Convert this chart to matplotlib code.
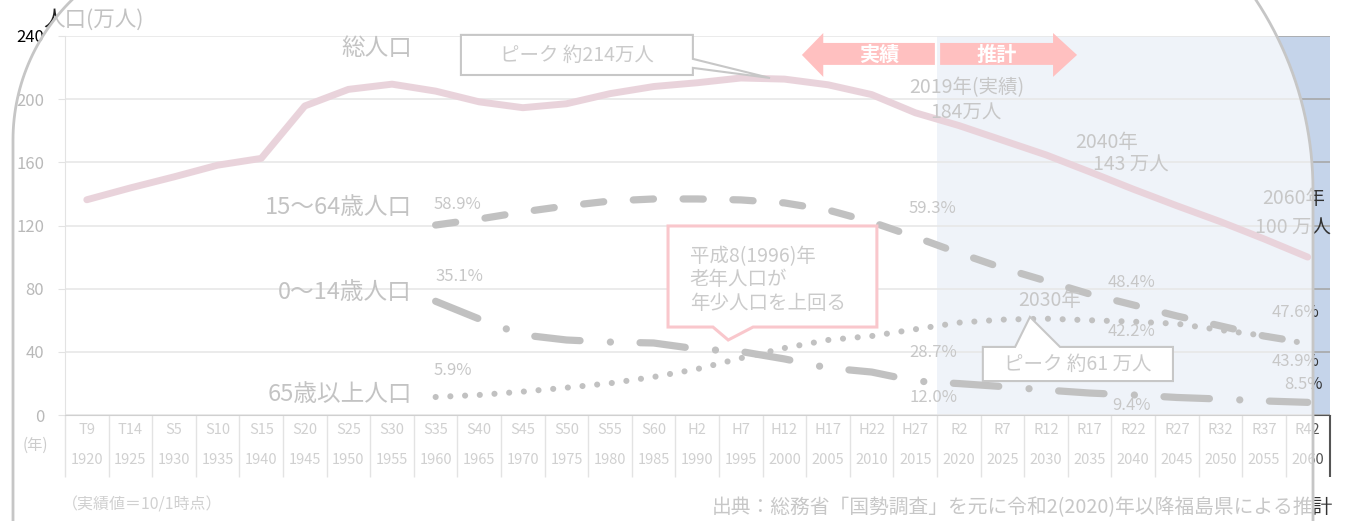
import numpy as np
import matplotlib
matplotlib.use('Agg')
import matplotlib.pyplot as plt
from matplotlib.patches import Polygon

plt.rcParams['font.family'] = ['Noto Sans CJK JP', 'DejaVu Sans']

# 福島県の人口推移（万人）
eras = ['T9', 'T14', 'S5', 'S10', 'S15', 'S20', 'S25', 'S30', 'S35', 'S40',
        'S45', 'S50', 'S55', 'S60', 'H2', 'H7', 'H12', 'H17', 'H22', 'H27',
        'R2', 'R7', 'R12', 'R17', 'R22', 'R27', 'R32', 'R37', 'R42']
years = [1920, 1925, 1930, 1935, 1940, 1945, 1950, 1955, 1960, 1965,
         1970, 1975, 1980, 1985, 1990, 1995, 2000, 2005, 2010, 2015,
         2020, 2025, 2030, 2035, 2040, 2045, 2050, 2055, 2060]
total = [136.3, 143.8, 150.8, 158.2, 162.5, 195.7, 206.2, 209.5, 205.1, 198.3,
         194.6, 197.1, 203.5, 208.0, 210.4, 213.4, 212.7, 209.1, 202.9, 191.4,
         183.3, 174.0, 164.7, 154.0, 143.0, 132.5, 122.4, 111.5, 100.0]
# 1960年以降の年齢区分別人口
age15_64 = [120.3, 124.1, 128.6, 132.4, 135.5, 136.8, 136.8, 136.2, 134.3, 129.8,
            122.2, 112.7, 102.6, 93.1, 84.9, 76.6, 69.7, 62.7, 56.4, 50.0, 45.5]
age0_14 = [72.0, 60.8, 50.7, 47.5, 46.2, 45.6, 41.8, 40.2, 35.5, 29.8,
           27.2, 21.5, 19.9, 18.0, 15.8, 13.9, 12.7, 11.1, 10.1, 8.9, 8.0]
age65 = [11.4, 12.7, 14.8, 17.3, 20.1, 24.1, 29.1, 36.0, 42.4, 47.5,
         50.0, 54.3, 58.5, 60.4, 61.0, 60.0, 59.1, 57.8, 53.8, 50.2, 45.0]
start_1960 = years.index(1960)
start_proj = years.index(2020)

W, H = 1345, 521
fig = plt.figure(figsize=(W / 100, H / 100), dpi=100)
ax = fig.add_axes([65 / W, 106 / H, 1264.5 / W, 379 / H])

x = np.arange(len(years))
xs = x[start_1960:]

# 推計期間の網掛け
ax.axvspan(start_proj - 0.5, len(years) - 0.5, color='#c5d4ea', lw=0, zorder=0)

ax.plot(x, total, color='#b1607d', lw=5, solid_capstyle='round', zorder=3)
ax.plot(xs, age15_64, color='#1e1e1e', lw=5.2, ls=(0, (2.8, 4.1)),
        dash_capstyle='round', zorder=3)
ax.plot(xs, age0_14, color='#1e1e1e', lw=5.2, ls=(0, (6.3, 4.2, 0.01, 4.1)),
        dash_capstyle='round', zorder=3)
ax.plot(xs, age65, color='#1e1e1e', lw=4.4, ls=(0, (0.01, 2.4)),
        dash_capstyle='round', zorder=3)

ax.set_xlim(-0.5, len(years) - 0.5)
ax.set_ylim(0, 240)
ax.set_yticks(range(0, 241, 40))
ax.set_xticks([])
ax.yaxis.grid(True, color='#a8a8a8', lw=1.2)
ax.set_axisbelow(True)
for s in ['top', 'right']:
    ax.spines[s].set_visible(False)
ax.spines['left'].set_color('#9a9a9a')
ax.spines['bottom'].set_color('#555555')
ax.tick_params(axis='y', length=5, color='#9a9a9a', labelsize=12, pad=10,
               labelcolor='black')

# 下の年表
ax.vlines(np.arange(len(years)) - 0.5, -39, 0, colors='#9b9b9b', lw=1, clip_on=False)
ax.vlines([len(years) - 0.5], -39, 0, colors='#555555', lw=1.5, clip_on=False)
for i in range(len(years)):
    ax.text(i, -9.5, eras[i], ha='center', va='center', fontsize=10.5, color='#555555')
    ax.text(i, -28.5, str(years[i]), ha='center', va='center', fontsize=10.5,
            color='#555555')

# 系列名
for label, yv in [('総人口', 231.8), ('15〜64歳人口', 131.4),
                  ('0〜14歳人口', 77.5), ('65歳以上人口', 12.7)]:
    ax.text(7.46, yv, label, ha='right', va='center', fontsize=17, color='#262626')

# 割合ラベル
pcts = [('58.9%', 8.51, 133.6), ('35.1%', 8.54, 87.4), ('5.9%', 8.40, 27.9),
        ('59.3%', 19.39, 130.5), ('28.7%', 19.41, 39.3), ('12.0%', 19.41, 10.8),
        ('48.4%', 23.97, 83.6), ('42.2%', 23.97, 52.6), ('9.4%', 23.97, 5.7),
        ('47.6%', 27.71, 64.6), ('43.9%', 27.71, 33.6), ('8.5%', 27.90, 19.0)]
for t, px, py in pcts:
    ax.text(px, py, t, ha='center', va='center', fontsize=12, color='#333333')

# 総人口の注記
for t, px, py in [('2019年(実績)', 20.17, 207.1), ('184万人', 20.17, 191.3),
                  ('2040年', 23.40, 172.3), ('143 万人', 23.95, 158.3),
                  ('2060年', 27.67, 137.4), ('100 万人', 27.67, 118.4),
                  ('2030年', 22.09, 72.2)]:
    ax.text(px, py, t, ha='center', va='center', fontsize=14, color='#333333')

# 実績・推計の矢印
ax.add_patch(Polygon([(16.40, 228.0), (16.89, 241.9), (16.89, 235.6), (19.45, 235.6),
                      (19.45, 221.7), (16.89, 221.7), (16.89, 214.1)],
                     closed=True, fc='#ff1a1a', ec='none', clip_on=False, zorder=4))
ax.add_patch(Polygon([(19.57, 235.6), (22.16, 235.6), (22.16, 241.9), (22.71, 228.0),
                      (22.16, 214.1), (22.16, 221.7), (19.57, 221.7)],
                     closed=True, fc='#ff1a1a', ec='none', clip_on=False, zorder=4))
ax.text(18.17, 228.6, '実績', ha='center', va='center', fontsize=14.5,
        fontweight='bold', color='white', zorder=5)
ax.text(20.86, 228.6, '推計', ha='center', va='center', fontsize=14.5,
        fontweight='bold', color='white', zorder=5)

# 吹き出し
ax.add_patch(Polygon([(8.58, 240.7), (13.90, 240.7), (13.90, 225.5), (15.67, 213.4),
                      (13.90, 219.8), (13.90, 215.3), (8.58, 215.3)],
                     closed=True, fc='white', ec='#333333', lw=1.5, clip_on=False,
                     zorder=5))
ax.text(11.24, 228.0, 'ピーク 約214万人', ha='center', va='center', fontsize=14,
        color='#404040', zorder=6)

ax.add_patch(Polygon([(13.33, 119.7), (18.12, 119.7), (18.12, 55.7), (15.28, 55.7),
                      (14.71, 47.5), (14.36, 55.7), (13.33, 55.7)],
                     closed=True, fc='white', ec='#ec3346', lw=2.2, zorder=5))
for t, py in [('平成8(1996)年', 100.0), ('老年人口が', 85.5), ('年少人口を上回る', 70.9)]:
    ax.text(13.83, py, t, ha='left', va='center', fontsize=14, color='#404040', zorder=6)

ax.add_patch(Polygon([(20.55, 43.1), (21.29, 43.1), (21.63, 62.1), (22.32, 43.1),
                      (24.91, 43.1), (24.91, 21.5), (20.55, 21.5)],
                     closed=True, fc='white', ec='#333333', lw=1.5, zorder=5))
ax.text(22.73, 32.3, 'ピーク 約61 万人', ha='center', va='center', fontsize=14,
        color='#404040', zorder=6)

# 図の外のテキスト
fig.text(43 / W, 1 - 20 / H, '人口(万人)', ha='left', va='center', fontsize=15.5,
         color='#222222')
fig.text(35 / W, 1 - 445 / H, '(年)', ha='center', va='center', fontsize=11,
         color='#444444')
fig.text(62 / W, 1 - 505 / H, '（実績値＝10/1時点）', ha='left', va='center',
         fontsize=11.5, color='#555555')
fig.text(1333 / W, 1 - 508 / H, '出典：総務省「国勢調査」を元に令和2(2020)年以降福島県による推計',
         ha='right', va='center', fontsize=14.2, color='#333333')

# 半透明の白い覆い
t1 = np.linspace(np.pi, np.pi / 2, 60)
t2 = np.linspace(np.pi / 2, 0, 60)
px = np.concatenate([[13], 209 + 196 * np.cos(t1), 968 + 345 * np.cos(t2), [1313]])
py = np.concatenate([[560], 140 - 196 * np.sin(t1), 190 - 345 * np.sin(t2), [560]])
verts = np.column_stack([px / W, 1 - py / H])
fig.add_artist(Polygon(verts, closed=True, fc='white', ec='none', alpha=0.73,
                       transform=fig.transFigure, zorder=10))
fig.add_artist(Polygon(verts, closed=True, fill=False, ec='#c6c6c6', lw=2,
                       transform=fig.transFigure, zorder=11))

fig.savefig('out.png', dpi=100)
